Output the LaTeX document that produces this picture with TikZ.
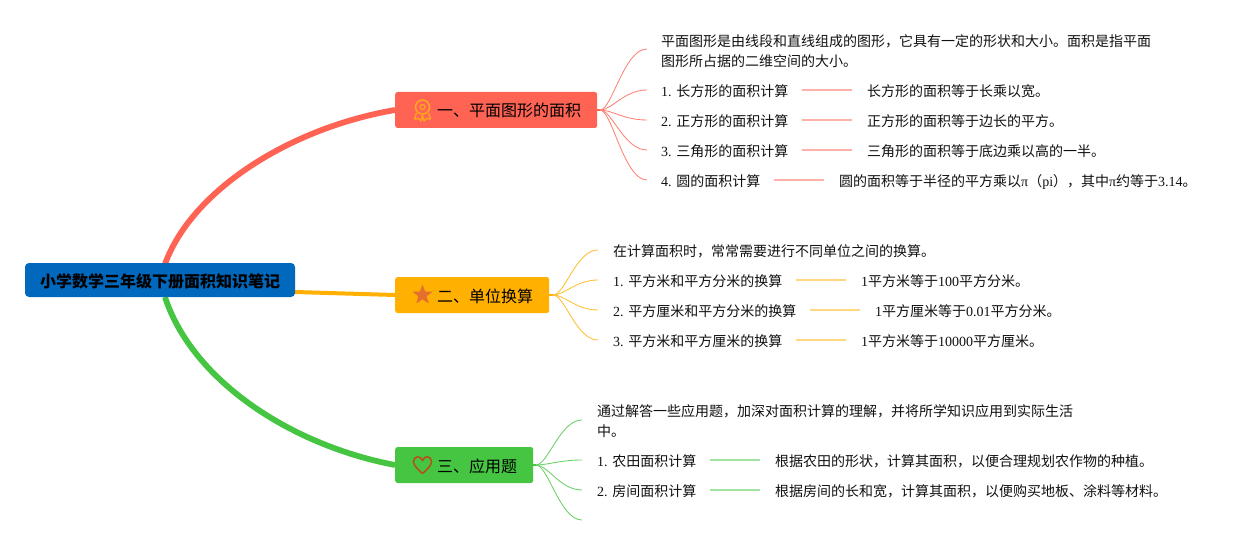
\documentclass[tikz,border=0pt]{standalone}
\usepackage{fontspec}
\setmainfont{Noto Sans CJK SC}
\newfontfamily\latfont{Liberation Serif}
\newcommand{\lat}[1]{{\latfont #1}}
\usetikzlibrary{backgrounds,shapes.geometric}
\definecolor{rootc}{HTML}{0068BD}
\definecolor{redc}{HTML}{FF6354}
\definecolor{ambc}{HTML}{FFB000}
\definecolor{grnc}{HTML}{45C541}
\definecolor{txtc}{HTML}{111111}
\definecolor{medalc}{HTML}{FFA51F}
\definecolor{starc}{HTML}{E5702E}
\definecolor{heartc}{HTML}{B5521C}
\tikzset{
  rootbox/.style={fill=rootc,rounded corners=4pt,minimum width=270pt,minimum height=34pt,inner sep=0pt,font=\fontsize{16}{20}\selectfont\bfseries,text=black,text height=15pt,text depth=0pt},
  topicbox/.style={fill=#1,rounded corners=2.5pt,minimum height=36pt,inner sep=0pt,anchor=west},
  topictext/.style={inner sep=0pt,anchor=west,font=\fontsize{16}{20}\selectfont,text=black,text height=13pt,text depth=3pt},
  txt/.style={inner sep=0pt,anchor=west,font=\fontsize{14}{20}\selectfont,text=txtc,text height=14pt,text depth=1.4pt},
  para/.style={inner sep=0pt,anchor=west,font=\fontsize{14}{20}\selectfont,text=txtc,align=left},
  mainline/.style={draw=#1,line width=5.8pt},
  stub/.style={draw=#1,line width=2pt},
  twig/.style={draw=#1!80,line width=0.85pt},
  link/.style={draw=#1!50,line width=1.3pt,shorten <=13pt,shorten >=15pt},
}
\begin{document}
\begin{tikzpicture}[x=1pt,y=-1pt]
\useasboundingbox (0,0) rectangle (1257,545);
% root and topics
\node[rootbox] (root) at (160,280) {小学数学三年级下册面积知识笔记};
\node[topicbox=redc,minimum width=202pt] (t1) at (395,110) {};
\node[topicbox=ambc,minimum width=154pt] (t2) at (395,295) {};
\node[topicbox=grnc,minimum width=138pt] (t3) at (395,465) {};
\node[topictext] (t1x) at (437,112) {一、平面图形的面积};
\node[topictext] (t2x) at (437,297) {二、单位换算};
\node[topictext] (t3x) at (437,467) {三、应用题};
% icons
\node[draw=medalc,line width=1.6pt,circle,minimum size=14pt,inner sep=0pt] (i1) at (422.5,107) {};
\node[draw=medalc,line width=1.3pt,circle,minimum size=5pt,inner sep=0pt] (i1b) at (422.5,107) {};
\draw[draw=medalc,line width=1.4pt,line join=round] (416.5,113) -- (414.5,119) -- (418.5,118.5) -- (421,121) -- (422.5,115) -- (424,121) -- (426.5,118.5) -- (430.5,119) -- (428.5,113);
\node[star,star points=5,star point ratio=2.4,fill=starc,inner sep=0pt,minimum size=21pt] (i2) at (422.5,295) {};
\draw[draw=heartc,line width=1.6pt,line join=round] (422.5,473.5) .. controls (415,467) and (413.5,464) .. (413.5,461.5) .. controls (413.5,456) and (420.5,455) .. (422.5,460.5) .. controls (424.5,455) and (431.5,456) .. (431.5,461.5) .. controls (431.5,464) and (430,467) .. (422.5,473.5) -- cycle;
% texts red
\node[para] (r0) at (661,51) {平面图形是由线段和直线组成的图形，它具有一定的形状和大小。面积是指平面\\图形所占据的二维空间的大小。};
\node[txt] (r1) at (661,90) {\lat{1. }长方形的面积计算};
\node[txt] (r2) at (661,120) {\lat{2. }正方形的面积计算};
\node[txt] (r3) at (661,150) {\lat{3. }三角形的面积计算};
\node[txt] (r4) at (661,180) {\lat{4. }圆的面积计算};
\node[txt] (r1b) at (867,90) {长方形的面积等于长乘以宽。};
\node[txt] (r2b) at (867,120) {正方形的面积等于边长的平方。};
\node[txt] (r3b) at (867,150) {三角形的面积等于底边乘以高的一半。};
\node[txt] (r4b) at (839,180) {圆的面积等于半径的平方乘以\lat{π}（\lat{pi}），其中\lat{π}约等于\lat{3.14}。};
% texts amber
\node[txt] (a0) at (613,250) {在计算面积时，常常需要进行不同单位之间的换算。};
\node[txt] (a1) at (613,280) {\lat{1. }平方米和平方分米的换算};
\node[txt] (a2) at (613,310) {\lat{2. }平方厘米和平方分米的换算};
\node[txt] (a3) at (613,340) {\lat{3. }平方米和平方厘米的换算};
\node[txt] (a1b) at (861,280) {\lat{1}平方米等于\lat{100}平方分米。};
\node[txt] (a2b) at (875,310) {\lat{1}平方厘米等于\lat{0.01}平方分米。};
\node[txt] (a3b) at (861,340) {\lat{1}平方米等于\lat{10000}平方厘米。};
% texts green
\node[para] (g0) at (597,421) {通过解答一些应用题，加深对面积计算的理解，并将所学知识应用到实际生活\\中。};
\node[txt] (g1) at (597,460) {\lat{1. }农田面积计算};
\node[txt] (g2) at (597,490) {\lat{2. }房间面积计算};
\node[txt] (g1b) at (775,460) {根据农田的形状，计算其面积，以便合理规划农作物的种植。};
\node[txt] (g2b) at (775,490) {根据房间的长和宽，计算其面积，以便购买地板、涂料等材料。};
% free ends
\coordinate (re0) at (647,49); \coordinate (re1) at (647,90); \coordinate (re2) at (647,120); \coordinate (re3) at (647,150); \coordinate (re4) at (647,180);
\coordinate (ae0) at (598,250); \coordinate (ae1) at (598,280); \coordinate (ae2) at (598,310); \coordinate (ae3) at (598,340);
\coordinate (ge0) at (582,420); \coordinate (ge1) at (582,460); \coordinate (ge2) at (582,490); \coordinate (ge3) at (582,520);
\coordinate (rj) at (600,110); \coordinate (aj) at (553,295); \coordinate (gj) at (536,465);
\coordinate (m1) at (165,264); \coordinate (m3) at (165,297); \coordinate (m2) at (295,292);
\begin{scope}[on background layer]
\fill[white] (0,0) rectangle (1257,545);
\draw[mainline=redc] (m1) .. controls (192,190) and (290,128) .. (t1.west);
\draw[mainline=grnc] (m3) .. controls (192,380) and (290,445) .. (t3.west);
\draw[draw=ambc,line width=4pt] (m2) -- (t2.west);
\draw[stub=redc] (t1.east) -- (rj);
\draw[stub=ambc] (t2.east) -- (aj);
\draw[stub=grnc] (t3.east) -- (gj);
\draw[twig=redc] (rj) .. controls (612,110) and (624,49) .. (re0);
\draw[twig=redc] (rj) .. controls (612,110) and (624,90) .. (re1);
\draw[twig=redc] (rj) .. controls (612,110) and (624,120) .. (re2);
\draw[twig=redc] (rj) .. controls (612,110) and (624,150) .. (re3);
\draw[twig=redc] (rj) .. controls (612,110) and (624,180) .. (re4);
\draw[twig=ambc] (aj) .. controls (565,295) and (576,250) .. (ae0);
\draw[twig=ambc] (aj) .. controls (565,295) and (576,280) .. (ae1);
\draw[twig=ambc] (aj) .. controls (565,295) and (576,310) .. (ae2);
\draw[twig=ambc] (aj) .. controls (565,295) and (576,340) .. (ae3);
\draw[twig=grnc] (gj) .. controls (548,465) and (560,420) .. (ge0);
\draw[twig=grnc] (gj) .. controls (548,465) and (560,460) .. (ge1);
\draw[twig=grnc] (gj) .. controls (548,465) and (560,490) .. (ge2);
\draw[twig=grnc] (gj) .. controls (548,465) and (560,520) .. (ge3);
\draw[link=redc] (r1) -- (r1b);
\draw[link=redc] (r2) -- (r2b);
\draw[link=redc] (r3) -- (r3b);
\draw[link=redc] (r4) -- (r4b);
\draw[link=ambc] (a1) -- (a1b);
\draw[link=ambc] (a2) -- (a2b);
\draw[link=ambc] (a3) -- (a3b);
\draw[link=grnc] (g1) -- (g1b);
\draw[link=grnc] (g2) -- (g2b);
\end{scope}
\end{tikzpicture}
\end{document}
